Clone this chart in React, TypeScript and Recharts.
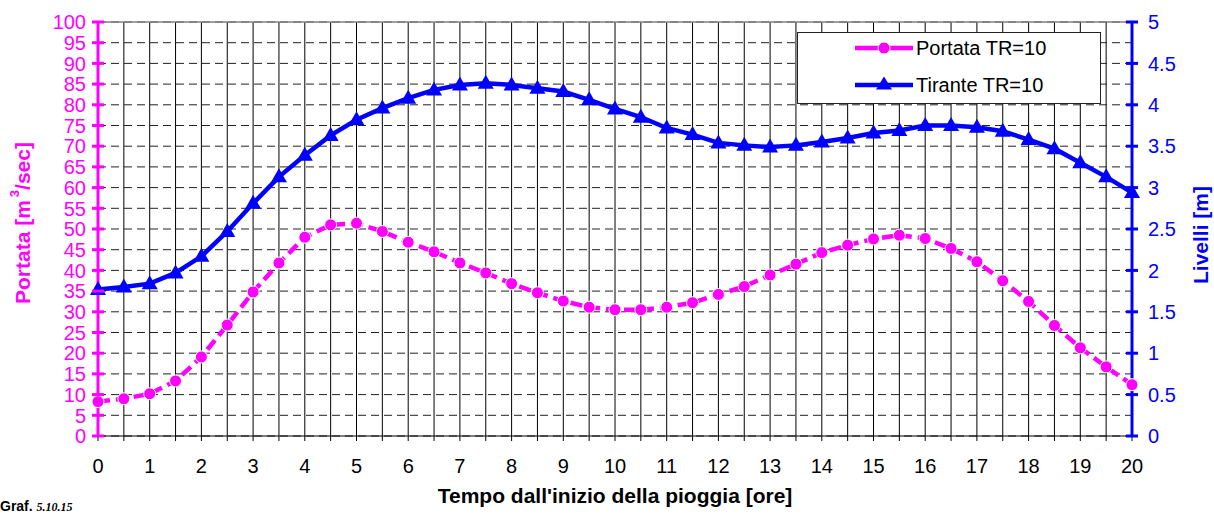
import React from 'react'
import { CartesianGrid, Line, LineChart, ReferenceLine, XAxis, YAxis } from 'recharts'

// tempo dall'inizio della pioggia [ore]
const ore = [
  0, 0.5, 1, 1.5, 2, 2.5, 3, 3.5, 4, 4.5, 5, 5.5, 6, 6.5, 7, 7.5, 8, 8.5, 9, 9.5, 10,
  10.5, 11, 11.5, 12, 12.5, 13, 13.5, 14, 14.5, 15, 15.5, 16, 16.5, 17, 17.5, 18, 18.5,
  19, 19.5, 20,
]

// Portata TR=10 [m3/sec]
const portata = [
  8.3, 9.0, 10.2, 13.3, 19.1, 26.8, 34.8, 41.8, 48.0, 51.0, 51.4, 49.4, 46.8, 44.5, 41.8,
  39.4, 36.8, 34.6, 32.6, 31.1, 30.5, 30.5, 31.1, 32.2, 34.2, 36.1, 38.9, 41.5, 44.3, 46.1,
  47.6, 48.5, 47.7, 45.3, 42.1, 37.5, 32.5, 26.7, 21.3, 16.7, 12.4,
]

// Tirante TR=10 [m]
const tirante = [
  1.77, 1.8, 1.84, 1.97, 2.17, 2.47, 2.81, 3.13, 3.39, 3.63, 3.82, 3.96, 4.08, 4.18, 4.24,
  4.26, 4.24, 4.2, 4.16, 4.06, 3.95, 3.85, 3.72, 3.64, 3.54, 3.51, 3.49, 3.51, 3.55, 3.6,
  3.66, 3.69, 3.75, 3.75, 3.73, 3.68, 3.58, 3.47, 3.3, 3.13, 2.94,
]

const portataTicks = [0, 5, 10, 15, 20, 25, 30, 35, 40, 45, 50, 55, 60, 65, 70, 75, 80, 85, 90, 95, 100]
const livelliTicks = [0, 0.5, 1, 1.5, 2, 2.5, 3, 3.5, 4, 4.5, 5]

const MAGENTA = '#ff00ff'
const BLUE = '#0000ff'
const FONT = '"Liberation Sans", Arial, sans-serif'

const data = ore.map((h, i) => ({ ore: h, portata: portata[i], tirante: tirante[i] }))

// tick che attraversa l'asse (come in Excel)
const CrossTick = (props: any) => {
  const { x, y, payload, side, color } = props
  const axisX = side === 'left' ? x + 12 : x - 16
  return (
    <g>
      <line x1={axisX - 6} x2={axisX + 6} y1={y} y2={y} stroke={color} strokeWidth={3} />
      <text
        x={x}
        y={y}
        dy="0.36em"
        textAnchor={side === 'left' ? 'end' : 'start'}
        fill={color}
        fontSize={20}
      >
        {payload.value}
      </text>
    </g>
  )
}

const CircleDot = (props: any) => {
  const { cx, cy, index } = props
  if (cx == null || cy == null) return null
  return <circle key={`c-${index}`} cx={cx} cy={cy} r={6} fill={MAGENTA} stroke="#fff" strokeWidth={1} />
}

const TriangleDot = (props: any) => {
  const { cx, cy, index } = props
  if (cx == null || cy == null) return null
  return (
    <path
      key={`t-${index}`}
      d={`M${cx},${cy - 8.5}L${cx + 8},${cy + 5.5}L${cx - 8},${cy + 5.5}Z`}
      fill={BLUE}
      stroke="none"
    />
  )
}

const LegendBox = () => (
  <div
    style={{
      position: 'absolute',
      left: 797,
      top: 32,
      width: 302,
      height: 70,
      border: '1px solid #222',
      background: '#fff',
      fontSize: 20,
    }}
  >
    <div style={{ position: 'absolute', left: 57, top: 3, height: 24, display: 'flex', alignItems: 'center' }}>
      <svg width={58} height={20}>
        <line x1={0} x2={58} y1={10} y2={10} stroke={MAGENTA} strokeWidth={4.5} />
        <circle cx={29} cy={10} r={6} fill={MAGENTA} stroke="#fff" strokeWidth={1} />
      </svg>
      <span style={{ marginLeft: 3 }}>Portata TR=10</span>
    </div>
    <div style={{ position: 'absolute', left: 57, top: 40, height: 24, display: 'flex', alignItems: 'center' }}>
      <svg width={58} height={20}>
        <line x1={0} x2={58} y1={10} y2={10} stroke={BLUE} strokeWidth={4.5} />
        <path d="M29,1.5L37,14.5L21,14.5Z" fill={BLUE} />
      </svg>
      <span style={{ marginLeft: 3 }}>Tirante TR=10</span>
    </div>
  </div>
)

export default function App() {
  return (
    <div
      style={{
        position: 'absolute',
        left: 0,
        top: 0,
        width: 1214,
        height: 515,
        overflow: 'hidden',
        background: '#fff',
        fontFamily: FONT,
      }}
    >
      <LineChart width={1214} height={515} data={data} margin={{ top: 22, right: 0, left: 0, bottom: 0 }}>
        <CartesianGrid yAxisId="left" horizontal={false} stroke="#000" strokeWidth={1} />
        <CartesianGrid yAxisId="left" vertical={false} stroke="#222" strokeDasharray="8 5" />
        <XAxis
          dataKey="ore"
          type="number"
          domain={[0, 20]}
          ticks={ore}
          interval={0}
          height={79}
          axisLine={{ stroke: '#000', strokeWidth: 1 }}
          tickLine={{ stroke: '#000' }}
          tickSize={5}
          tickMargin={18}
          tick={{ fill: '#000', fontSize: 20 }}
          tickFormatter={(v: number) => (Number.isInteger(v) ? String(v) : '')}
          label={{
            value: "Tempo dall'inizio della pioggia [ore]",
            position: 'insideBottom',
            offset: 12,
            fill: '#000',
            fontSize: 21,
            fontWeight: 'bold',
          }}
        />
        <YAxis
          yAxisId="left"
          orientation="left"
          domain={[0, 100]}
          ticks={portataTicks}
          interval={0}
          width={98}
          axisLine={{ stroke: MAGENTA, strokeWidth: 3 }}
          tickLine={false}
          tickSize={6}
          tickMargin={6}
          tick={<CrossTick side="left" color={MAGENTA} />}
          label={{
            content: ({ viewBox }: any) => {
              const cx = viewBox.x + 22
              const cy = viewBox.y + viewBox.height / 2 - 6
              return (
                <text
                  x={cx}
                  y={cy}
                  transform={`rotate(-90, ${cx}, ${cy})`}
                  textAnchor="middle"
                  dominantBaseline="central"
                  fill={MAGENTA}
                  fontSize={21}
                  fontWeight="bold"
                >
                  Portata [m
                  <tspan dx={3} dy={-8} fontSize={13}>
                    3
                  </tspan>
                  <tspan dy={8}>/sec]</tspan>
                </text>
              )
            },
          }}
        />
        <YAxis
          yAxisId="right"
          orientation="right"
          domain={[0, 5]}
          ticks={livelliTicks}
          interval={0}
          width={82}
          axisLine={{ stroke: BLUE, strokeWidth: 3 }}
          tickLine={false}
          tickSize={6}
          tickMargin={10}
          tick={<CrossTick side="right" color={BLUE} />}
          label={{
            content: ({ viewBox }: any) => {
              const cx = viewBox.x + 68
              const cy = viewBox.y + viewBox.height / 2 + 6
              return (
                <text
                  x={cx}
                  y={cy}
                  transform={`rotate(-90, ${cx}, ${cy})`}
                  textAnchor="middle"
                  dominantBaseline="central"
                  fill={BLUE}
                  fontSize={21}
                  fontWeight="bold"
                >
                  Livelli [m]
                </text>
              )
            },
          }}
        />
        <ReferenceLine yAxisId="left" y={100} stroke="#808080" strokeWidth={1.5} />
        <Line
          yAxisId="left"
          type="linear"
          dataKey="portata"
          stroke={MAGENTA}
          strokeWidth={4.5}
          strokeDasharray="12 6"
          dot={CircleDot}
          activeDot={false}
          isAnimationActive={false}
        />
        <Line
          yAxisId="right"
          type="linear"
          dataKey="tirante"
          stroke={BLUE}
          strokeWidth={4.5}
          dot={TriangleDot}
          activeDot={false}
          isAnimationActive={false}
        />
      </LineChart>
      <LegendBox />
      <div
        style={{
          position: 'absolute',
          left: 0,
          top: 499,
          fontSize: 14,
          lineHeight: '14px',
          whiteSpace: 'nowrap',
        }}
      >
        <b>Graf.</b>{' '}
        <i style={{ fontFamily: '"Liberation Serif", serif', fontSize: 12, fontWeight: 'bold' }}>5.10.15</i>
      </div>
    </div>
  )
}
